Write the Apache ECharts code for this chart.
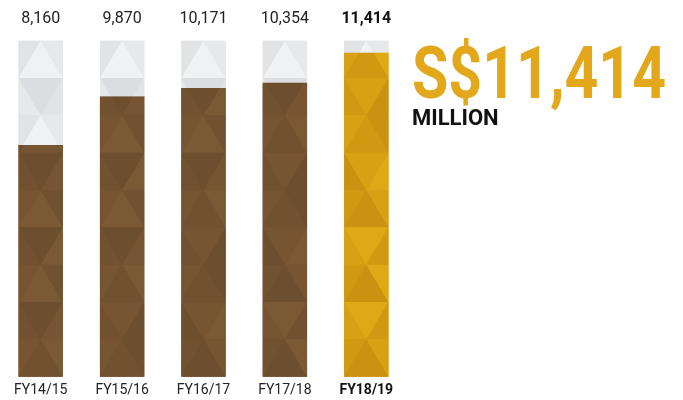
<!DOCTYPE html>
<html>
<head>
<meta charset="utf-8">
<script src="https://cdn.jsdelivr.net/npm/echarts@6/dist/echarts.min.js"></script>
<style>
  html, body { margin: 0; padding: 0; background: #ffffff; }
  #chart { width: 683px; height: 400px; }
</style>
</head>
<body>
<div id="chart"></div>
<script>
// Revenue by financial year (S$ million)
const categories = ['FY14/15', 'FY15/16', 'FY16/17', 'FY17/18', 'FY18/19'];
const revenue = [8160, 9870, 10171, 10354, 11414];
const highlightIndex = 4;
const scaleMax = 11835;          // full height of each column track
const headline = 'S$11,414';
const headlineUnit = 'MILLION';

// Facet shades for the triangle tessellation
const trackBase = '#e3e4e6';
const trackPalette = ['#dcdde0', '#e2e3e5', '#e7e8ea', '#f0f1f2'];
const brownBase = '#735231';
const brownPalette = ['#6d4e2f', '#725131', '#775533', '#7b5935'];
const goldBase = '#d39c12';
const goldPalette  = ['#c99210', '#d09911', '#d8a113', '#dea817'];

// [left, centre, right] palette index per row, top to bottom
const trackShades = [[1,3,2],[2,0,1],[1,3,2],[2,0,1],[1,3,2],[2,0,1],[1,3,2],[2,0,1],[1,3,2]];
const fillShades  = [[1,2,0],[2,1,0],[0,2,3],[1,0,2],[2,3,1],[1,0,3],[2,3,1],[1,0,2],[2,1,3]];
const ROWS = 9;

const fmt = v => v.toLocaleString('en-US');

// keep the part of a polygon that lies below a horizontal line (pixel y >= yc)
function clipBelow(poly, yc) {
  const out = [];
  for (let i = 0; i < poly.length; i++) {
    const a = poly[i], b = poly[(i + 1) % poly.length];
    const aIn = a[1] >= yc, bIn = b[1] >= yc;
    if (aIn) out.push(a);
    if (aIn !== bIn) {
      const t = (yc - a[1]) / (b[1] - a[1]);
      out.push([a[0] + t * (b[0] - a[0]), yc]);
    }
  }
  return out;
}

// keep the part of a polygon above a horizontal line (pixel y <= yc)
function clipAbove(poly, yc) {
  return clipBelow(poly.map(p => [p[0], -p[1]]), -yc).map(p => [p[0], -p[1]]);
}

function facets(x0, x1, yT, yB, up) {
  const xm = (x0 + x1) / 2;
  if (up) {
    return [
      [[x0, yT], [xm, yT], [x0, yB]],
      [[xm, yT], [x1, yB], [x0, yB]],
      [[xm, yT], [x1, yT], [x1, yB]]
    ];
  }
  return [
    [[x0, yT], [xm, yB], [x0, yB]],
    [[x0, yT], [x1, yT], [xm, yB]],
    [[x1, yT], [x1, yB], [xm, yB]]
  ];
}

function renderColumn(params, api) {
  const idx = api.value(0);
  const val = api.value(1);
  const base = api.coord([idx, 0]);
  const top = api.coord([idx, scaleMax]);
  const fillTop = api.coord([idx, val])[1];
  const bw = api.size([1, 0])[0] * 0.545;
  const x0 = base[0] - bw / 2, x1 = base[0] + bw / 2;
  const rowH = (base[1] - top[1]) / ROWS;
  const hi = idx === highlightIndex;
  const fillPal = hi ? goldPalette : brownPalette;
  const children = [
    { type: 'rect', shape: { x: x0, y: top[1], width: bw, height: fillTop - top[1] }, style: { fill: trackBase } },
    { type: 'rect', shape: { x: x0, y: fillTop, width: bw, height: base[1] - fillTop }, style: { fill: hi ? goldBase : brownBase } }
  ];
  for (let r = 0; r < ROWS; r++) {
    const yT = top[1] + r * rowH, yB = yT + rowH;
    const tris = facets(x0, x1, yT, yB, r % 2 === 0);
    tris.forEach((tri, k) => {
      if (yT < fillTop) {
        const above = clipAbove(tri, fillTop);
        if (above.length >= 3) {
          children.push({
            type: 'polygon',
            shape: { points: above },
            style: { fill: trackPalette[trackShades[r][k]] }
          });
        }
      }
      const part = yT >= fillTop ? tri : clipBelow(tri, fillTop);
      if (part.length >= 3) {
        children.push({
          type: 'polygon',
          shape: { points: part },
          style: { fill: fillPal[fillShades[(r + idx * 2) % ROWS][k]] }
        });
      }
    });
  }
  return { type: 'group', children };
}

const chart = echarts.init(document.getElementById('chart'), null, { renderer: 'canvas' });

const labelStyle = (size) => ({
  interval: 0,
  fontFamily: 'Roboto',
  fontSize: size,
  color: '#222222',
  formatter: (v, i) => i === highlightIndex ? '{b|' + v + '}' : v,
  rich: { b: { fontFamily: 'Roboto', fontSize: size, fontWeight: 'bold', color: '#111111' } }
});

chart.setOption({
  animation: false,
  backgroundColor: '#ffffff',
  grid: { left: 0, width: 407, top: 40.7, bottom: 23.3 },
  xAxis: [
    {
      type: 'category',
      data: categories,
      position: 'bottom',
      axisLine: { show: false },
      axisTick: { show: false },
      axisLabel: Object.assign(labelStyle(14), { margin: 7 })
    },
    {
      type: 'category',
      data: revenue.map(fmt),
      position: 'top',
      axisLine: { show: false },
      axisTick: { show: false },
      axisLabel: Object.assign(labelStyle(16), { margin: 14 })
    }
  ],
  yAxis: { type: 'value', min: 0, max: scaleMax, show: false, splitLine: { show: false } },
  series: [{
    type: 'custom',
    renderItem: renderColumn,
    encode: { x: 0, y: 1 },
    data: revenue.map((v, i) => [i, v])
  }],
  graphic: [
    {
      type: 'text',
      x: 412,
      y: 80,
      scaleX: 0.82,
      originX: 0,
      style: {
        text: headline,
        font: 'bold 72px Roboto',
        fill: '#e2a71a',
        textAlign: 'left',
        textVerticalAlign: 'middle'
      }
    },
    {
      type: 'text',
      x: 412,
      y: 119,
      style: {
        text: headlineUnit,
        font: 'bold 22px Roboto',
        fill: '#111111',
        textAlign: 'left',
        textVerticalAlign: 'middle'
      }
    }
  ]
});
</script>
</body>
</html>
